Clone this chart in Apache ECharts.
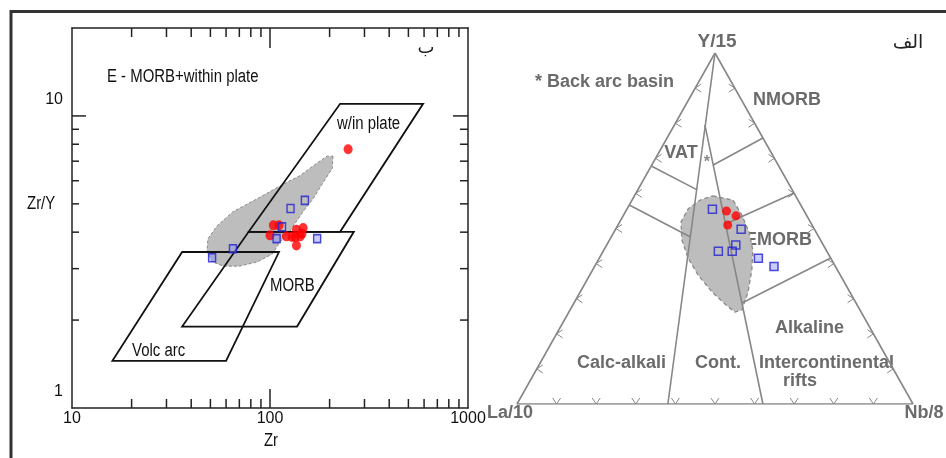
<!DOCTYPE html>
<html>
<head>
<meta charset="utf-8">
<script src="https://cdn.jsdelivr.net/npm/echarts@6/dist/echarts.min.js"></script>
<style>
  html, body { margin: 0; padding: 0; background: #fff; }
  #chart { width: 946px; height: 458px; }
</style>
</head>
<body>
<div id="chart"></div>
<script>
// ---------- left panel: Zr vs Zr/Y (Pearce & Norry) ----------
var xMajorTicks = [100]
var yMajorTicks = [10]
var xMinorTicks = [20, 30, 40, 50, 60, 70, 80, 90, 200, 300, 400, 500, 600, 700, 800, 900]
var yMinorTicks = [2, 3, 4, 5, 6, 7, 8, 9]

// fields [Zr, Zr/Y]
var volcArcField = [[16, 1.45], [60, 1.45], [111, 3.42], [36, 3.42]]
var morbField = [[36, 1.9], [137, 1.9], [265, 4.01], [78, 4.01]]
var withinPlateField = [[78, 4.01], [226, 4.01], [593, 11.0], [226, 11.0]]
var greyFieldLeft = [
  [208, 7.28], [206, 6.6], [185, 5.9], [165, 5.2], [147, 4.7], [131, 4.2], [122, 3.9],
  [112, 3.7], [103, 3.37], [86, 3.16], [70, 3.06], [58, 3.06], [51.5, 3.16], [48, 3.42],
  [48.6, 3.8], [54, 4.2], [65, 4.7], [86, 5.2], [112, 5.75], [142, 6.25], [173, 6.9], [194, 7.28],
]

// samples [Zr, Zr/Y]
var redLeft = [
  [248, 7.69], [104, 4.22], [111, 4.22], [100, 3.9], [121, 3.87], [129, 3.85],
  [136, 4.08], [147, 4.13], [142, 3.87], [134, 3.85], [136, 3.6], [145, 3.95],
]
var blueOpenLeft = [[150, 5.14], [127, 4.82], [115, 4.17]]
var blueFillLeft = [[108, 3.8], [173, 3.8], [65, 3.51], [51, 3.27]]

// ---------- right panel: La/10 - Y/15 - Nb/8 ternary ----------
// points are [Y/15, La/10, Nb/8] in %
var ternVertices = [[100, 0, 0], [0, 100, 0], [0, 0, 100]]
var ternTicks = [10, 20, 30, 40, 50, 60, 70, 80, 90]
var ternLines = [
  [[100, 0, 0], [0, 61.9, 38.1]],
  [[79.5, 12.8, 7.7], [0, 37.9, 62.1]],
  [[67.8, 32.2, 0], [61.0, 24.0, 15.0]],
  [[56.7, 43.3, 0], [47.6, 32.4, 20.0]],
  [[68.1, 16.4, 15.5], [75.8, 0, 24.2]],
  [[51.3, 21.7, 27.0], [60.1, 0, 39.9]],
  [[28.8, 28.8, 42.4], [41.6, 0, 58.4]],
]
var greyFieldRight = [
  [59.3, 20.9, 19.8], [58.1, 16.4, 25.5], [53.8, 16.3, 29.9], [49.0, 16.9, 34.1],
  [43.9, 18.5, 37.6], [38.2, 21.6, 40.2], [31.9, 25.7, 42.4], [26.8, 29.8, 43.4],
  [26.2, 31.9, 41.9], [28.2, 33.1, 38.7], [31.9, 34.8, 33.3], [36.8, 35.9, 27.3],
  [41.6, 36.0, 22.4], [46.7, 35.0, 18.3], [51.9, 32.7, 15.5], [55.6, 29.0, 15.4],
  [58.1, 24.7, 17.2],
]
var backArcStar = [68.9, 17.6, 13.5]
var redRight = [[55.0, 19.6, 25.4], [53.6, 17.9, 28.5], [51.0, 21.3, 27.7]]
var blueOpenRight = [
  [55.5, 22.9, 21.6], [49.8, 18.5, 31.7], [45.3, 22.1, 32.6], [43.5, 23.9, 32.6], [43.5, 27.4, 29.1],
]
var blueFillRight = [[41.5, 18.3, 40.2], [39.2, 15.5, 45.3]]

// ternary -> hidden cartesian (0..1)
function tern(p) {
  var s = p[0] + p[1] + p[2]
  var a = p[0] / s
  var c = p[2] / s
  return [c + a / 2, a]
}

function isPow10(v) {
  var l = Math.log(v) / Math.LN10
  return Math.abs(l - Math.round(l)) < 1e-6
}

var narrow = '"Liberation Sans Narrow", "Liberation Sans", Arial, sans-serif'
var sans = '"Liberation Sans", Arial, sans-serif'
var ternText = '#6b6b6b'
var ternStroke = '#878787'
var ternFont = 'bold 18px ' + sans

function polySeries(points, style, z) {
  return {
    type: 'custom',
    xAxisIndex: 0,
    yAxisIndex: 0,
    silent: true,
    z: z,
    data: [[points[0][0], points[0][1]]],
    renderItem: function (params, api) {
      return {
        type: 'polygon',
        shape: { points: points.map(function (p) { return api.coord(p) }) },
        style: style,
      }
    },
  }
}

function ternLineSeries(points, z) {
  return {
    type: 'line',
    xAxisIndex: 2,
    yAxisIndex: 2,
    silent: true,
    symbol: 'none',
    z: z,
    lineStyle: { color: ternStroke, width: 1.6 },
    data: points.map(tern),
  }
}

// text element; sx squeezes it horizontally (narrow face of the original)
function textEl(text, x, y, font, fill, align, sx) {
  return {
    type: 'text',
    x: x,
    y: y,
    scaleX: sx || 1,
    style: { text: text, font: font, fill: fill, align: align || 'left', verticalAlign: 'middle' },
  }
}

// short tick strokes drawn from the log axes
function tickSeries(values, horizontal, lenA, lenB) {
  return {
    type: 'custom', xAxisIndex: 0, yAxisIndex: 0, silent: true, z: 3,
    data: values.map(function (v) { return horizontal ? [v, 1] : [10, v] }),
    renderItem: function (params, api) {
      var st = { stroke: '#222', lineWidth: 1.5 }
      var p1, p2
      if (horizontal) {
        p1 = api.coord([api.value(0), 1])
        p2 = api.coord([api.value(0), 20])
        return {
          type: 'group',
          children: [
            { type: 'line', shape: { x1: p1[0], y1: p1[1], x2: p1[0], y2: p1[1] - lenA }, style: st },
            { type: 'line', shape: { x1: p2[0], y1: p2[1], x2: p2[0], y2: p2[1] + lenB }, style: st },
          ],
        }
      }
      p1 = api.coord([10, api.value(1)])
      p2 = api.coord([1000, api.value(1)])
      return {
        type: 'group',
        children: [
          { type: 'line', shape: { x1: p1[0], y1: p1[1], x2: p1[0] + lenA, y2: p1[1] }, style: st },
          { type: 'line', shape: { x1: p2[0], y1: p2[1], x2: p2[0] - lenB, y2: p2[1] }, style: st },
        ],
      }
    },
  }
}

var chart = echarts.init(document.getElementById('chart'))

var axisLineStyle = { color: '#222', width: 1.5 }

var option = {
  animation: false,
  grid: [
    { left: 72, right: 478, top: 28, bottom: 50 },
    { left: 517, right: 33, top: 53, bottom: 54 },
  ],
  xAxis: [
    {
      gridIndex: 0, type: 'log', logBase: 10, min: 10, max: 1000, position: 'bottom',
      axisLine: { lineStyle: axisLineStyle },
      axisTick: { show: false },
      axisLabel: {
        margin: 3, color: '#111', fontSize: 16, fontFamily: narrow,
        formatter: function (v) { return isPow10(v) ? String(Math.round(v)) : '' },
      },
      splitLine: { show: false },
    },
    {
      gridIndex: 0, type: 'log', logBase: 10, min: 10, max: 1000, position: 'top',
      axisLine: { lineStyle: axisLineStyle },
      axisTick: { show: false },
      axisLabel: { show: false },
      splitLine: { show: false },
    },
    { gridIndex: 1, type: 'value', min: 0, max: 1, show: false },
  ],
  yAxis: [
    {
      gridIndex: 0, type: 'log', logBase: 10, min: 1, max: 20, position: 'left',
      axisLine: { show: true, lineStyle: axisLineStyle },
      axisTick: { show: false },
      axisLabel: {
        margin: 9, color: '#111', fontSize: 16, fontFamily: narrow,
        verticalAlign: 'bottom', padding: [0, 0, 8, 0],
        formatter: function (v) { return isPow10(v) && v < 15 ? String(Math.round(v)) : '' },
      },
      splitLine: { show: false },
    },
    {
      gridIndex: 0, type: 'log', logBase: 10, min: 1, max: 20, position: 'right',
      axisLine: { show: true, lineStyle: axisLineStyle },
      axisTick: { show: false },
      axisLabel: { show: false },
      splitLine: { show: false },
    },
    { gridIndex: 1, type: 'value', min: 0, max: 1, show: false },
  ],
  graphic: [
    // outer frame
    { type: 'rect', shape: { x: 11, y: 11.5, width: 1000, height: 1000 }, style: { fill: 'none', stroke: '#333', lineWidth: 3 } },
    textEl('E - MORB+within plate', 107, 77, '18px ' + narrow, '#111', 'left', 0.83),
    textEl('w/in plate', 337, 124, '18px ' + narrow, '#111', 'left', 0.83),
    textEl('MORB', 270, 286, '18px ' + narrow, '#111', 'left', 0.83),
    textEl('Volc arc', 132, 351, '18px ' + narrow, '#111', 'left', 0.83),
    textEl('Zr/Y', 27, 204, '18px ' + narrow, '#111', 'left', 0.83),
    textEl('Zr', 271, 441, '18px ' + narrow, '#111', 'center', 0.83),
    textEl('ب', 426, 48, '18px "DejaVu Sans", sans-serif', '#222', 'center'),
    // ternary labels
    textEl('Y/15', 717, 42, 'bold 19px ' + sans, ternText, 'center'),
    textEl('La/10', 510, 413, ternFont, ternText, 'center'),
    textEl('Nb/8', 924, 413, ternFont, ternText, 'center'),
    textEl('* Back arc basin', 535, 82, ternFont, ternText),
    textEl('NMORB', 753, 100, ternFont, ternText),
    textEl('VAT', 681, 153, ternFont, ternText, 'center'),
    textEl('EMORB', 745, 240, ternFont, ternText),
    textEl('Alkaline', 775, 328, ternFont, ternText),
    textEl('Calc-alkali', 577, 363, ternFont, ternText),
    textEl('Cont.', 695, 363, ternFont, ternText),
    textEl('Intercontinental', 759, 363, ternFont, ternText),
    textEl('rifts', 800, 381, ternFont, ternText, 'center'),
    textEl('الف', 908, 43, '19px "DejaVu Sans", sans-serif', '#222', 'center'),
  ],
  series: [
    // ---- left panel ----
    polySeries(greyFieldLeft, { fill: '#bdbdbd', stroke: '#8a8a8a', lineWidth: 1, lineDash: [3, 2] }, 1),
    polySeries(volcArcField, { fill: 'none', stroke: '#111', lineWidth: 1.8 }, 2),
    polySeries(morbField, { fill: 'none', stroke: '#111', lineWidth: 1.8 }, 2),
    polySeries(withinPlateField, { fill: 'none', stroke: '#111', lineWidth: 1.8 }, 2),
    tickSeries(xMajorTicks, true, 19, 20),
    tickSeries(xMinorTicks, true, 9, 9),
    tickSeries(yMajorTicks, false, 14, 15),
    tickSeries(yMinorTicks, false, 7, 8),
    {
      type: 'scatter', xAxisIndex: 0, yAxisIndex: 0, z: 5,
      symbol: 'circle', symbolSize: [9, 10],
      itemStyle: { color: '#ff0000' },
      data: redLeft,
    },
    {
      type: 'scatter', xAxisIndex: 0, yAxisIndex: 0, z: 6,
      symbol: 'rect', symbolSize: [7, 8],
      itemStyle: { color: 'rgba(0,0,0,0)', borderColor: '#2020d0', borderWidth: 1.5 },
      data: blueOpenLeft,
    },
    {
      type: 'scatter', xAxisIndex: 0, yAxisIndex: 0, z: 6,
      symbol: 'rect', symbolSize: [7, 8],
      itemStyle: { color: 'rgba(130,140,255,0.55)', borderColor: '#2020d0', borderWidth: 1.5 },
      data: blueFillLeft,
    },

    // ---- right panel (ternary on hidden grid) ----
    {
      type: 'custom', xAxisIndex: 2, yAxisIndex: 2, silent: true, z: 1,
      data: [tern(greyFieldRight[0])],
      renderItem: function (params, api) {
        return {
          type: 'polygon',
          shape: { points: greyFieldRight.map(function (p) { return api.coord(tern(p)) }) },
          style: { fill: '#bdbdbd', stroke: '#8a8a8a', lineWidth: 1.3, lineDash: [4, 3] },
        }
      },
    },
    ternLineSeries(ternVertices.concat([ternVertices[0]]), 2),
  ].concat(ternLines.map(function (seg) { return ternLineSeries(seg, 2) })).concat([
    {
      // chevron ticks along the three sides
      type: 'custom', xAxisIndex: 2, yAxisIndex: 2, silent: true, z: 2,
      data: ternTicks.map(function (t) { return [t, 0] }),
      renderItem: function (params, api) {
        var t = api.value(0)
        var L = api.coord(tern([t, 100 - t, 0]))
        var B = api.coord(tern([0, 100 - t, t]))
        var R = api.coord(tern([t, 0, 100 - t]))
        var st = { stroke: ternStroke, lineWidth: 1, fill: 'none' }
        return {
          type: 'group',
          children: [
            { type: 'polyline', shape: { points: [[L[0] + 6, L[1] - 4], L, [L[0] + 6, L[1] + 4]] }, style: st },
            { type: 'polyline', shape: { points: [[B[0] - 4, B[1] - 6], B, [B[0] + 4, B[1] - 6]] }, style: st },
            { type: 'polyline', shape: { points: [[R[0] - 6, R[1] - 4], R, [R[0] - 6, R[1] + 4]] }, style: st },
          ],
        }
      },
    },
    {
      type: 'scatter', xAxisIndex: 2, yAxisIndex: 2, silent: true, z: 3,
      symbolSize: 1, itemStyle: { color: 'rgba(0,0,0,0)' },
      label: { show: true, position: 'inside', formatter: '*', color: ternText, fontSize: 16, fontWeight: 'bold', fontFamily: sans },
      data: [tern(backArcStar)],
    },
    {
      type: 'scatter', xAxisIndex: 2, yAxisIndex: 2, z: 5,
      symbol: 'circle', symbolSize: 9,
      itemStyle: { color: '#ff0000' },
      data: redRight.map(tern),
    },
    {
      type: 'scatter', xAxisIndex: 2, yAxisIndex: 2, z: 6,
      symbol: 'rect', symbolSize: 8,
      itemStyle: { color: 'rgba(0,0,0,0)', borderColor: '#2020d0', borderWidth: 1.5 },
      data: blueOpenRight.map(tern),
    },
    {
      type: 'scatter', xAxisIndex: 2, yAxisIndex: 2, z: 6,
      symbol: 'rect', symbolSize: 8,
      itemStyle: { color: 'rgba(130,140,255,0.55)', borderColor: '#2020d0', borderWidth: 1.5 },
      data: blueFillRight.map(tern),
    },
  ]),
}

chart.setOption(option)
window.addEventListener('resize', function () {
  chart.resize()
})
</script>
</body>
</html>
